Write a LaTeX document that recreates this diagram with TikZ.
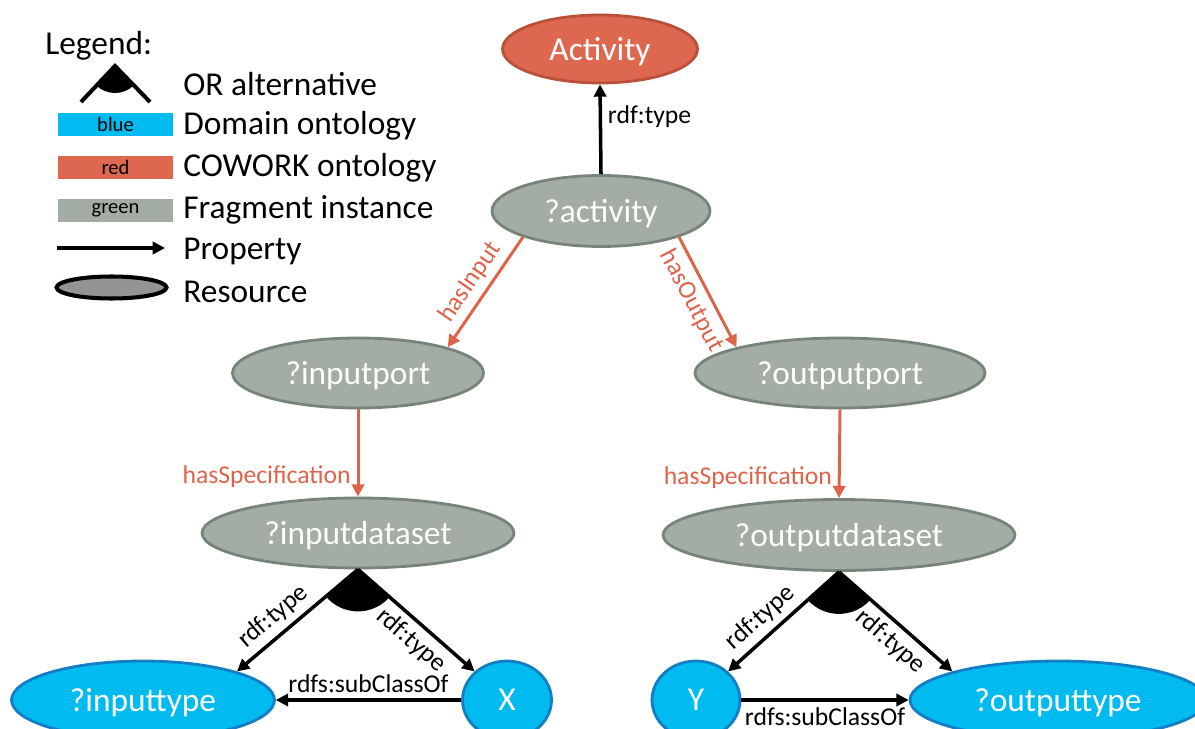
\documentclass[tikz,border=0pt]{standalone}
\usepackage{fontspec}
\setmainfont{Carlito}
\usetikzlibrary{shapes.geometric,arrows.meta}
\definecolor{domfill}{RGB}{0,187,240}
\definecolor{domline}{RGB}{20,125,195}
\definecolor{cwfill}{RGB}{221,104,79}
\definecolor{cwline}{RGB}{185,80,58}
\definecolor{cwedge}{RGB}{221,100,75}
\definecolor{fragfill}{RGB}{163,173,164}
\definecolor{fragline}{RGB}{118,132,122}
\definecolor{resgray}{RGB}{148,148,148}
\begin{document}
\begin{tikzpicture}[x=0.02cm, y=-0.02cm, >={Triangle[length=7pt,width=7pt]},
  res/.style={ellipse, inner sep=0pt, line width=1.6pt, text=white, text depth=0pt, font=\fontsize{19}{23}\selectfont},
  frag/.style={res, fill=fragfill, draw=fragline},
  cowork/.style={res, fill=cwfill, draw=cwline},
  domres/.style={res, fill=domfill, draw=domline},
  prop/.style={->, line width=2pt},
  cwprop/.style={->, line width=1.7pt, cwedge},
  lbl/.style={font=\fontsize{14.6}{17}\selectfont},
  legtext/.style={anchor=base west, inner sep=0pt, font=\fontsize{19}{23}\selectfont},
  swatch/.style={minimum width=2.3cm, minimum height=0.46cm, inner sep=0pt, font=\fontsize{11.7}{13}\selectfont}]
\useasboundingbox (0,0) rectangle (1195,729);
% Legend
\node[legtext] (lgtitle) at (45,55) {Legend:};
\coordinate (lgapex) at (115,66);
\fill (lgapex) -- ++(45.8:27) arc[start angle=45.8, end angle=133.4, radius=27] -- cycle;
\draw[line width=2.3pt] (81,102) -- (lgapex) -- (150,102);
\node[legtext] (lgor) at (183,96) {OR alternative};
\node[swatch, fill=domfill] (lgblue) at (115.5,124.5) {blue};
\node[legtext] (lgdom) at (183,135) {Domain ontology};
\node[swatch, fill=cwfill] (lgred) at (115.5,167.5) {red};
\node[legtext] (lgcw) at (183,177) {COWORK ontology};
\node[swatch, fill=fragfill] (lggreen) at (115.5,210.5) {green};
\node[legtext] (lgfrag) at (183,219) {Fragment instance};
\draw[prop] (57,248) -- (165,248);
\node[legtext] (lgprop) at (183,259) {Property};
\node[ellipse, draw, line width=2.3pt, fill=resgray, inner sep=0pt, minimum width=2.2cm, minimum height=0.44cm] (lgres) at (111.5,287.5) {};
\node[legtext] (lgrestext) at (183,302) {Resource};
% Resources
\node[cowork, minimum width=3.9cm, minimum height=1.36cm] (act) at (600,49) {Activity};
\node[frag, minimum width=4.36cm, minimum height=1.42cm] (vact) at (601,211) {?activity};
\node[frag, minimum width=5.02cm, minimum height=1.4cm] (iport) at (358,373) {?inputport};
\node[frag, minimum width=5.8cm, minimum height=1.4cm] (oport) at (840,373) {?outputport};
\node[frag, minimum width=6.24cm, minimum height=1.4cm] (ids) at (358,533) {?inputdataset};
\node[frag, minimum width=7.04cm, minimum height=1.42cm] (ods) at (839,535) {?outputdataset};
\node[domres, minimum width=5.26cm, minimum height=1.56cm] (itype) at (143,700) {?inputtype};
\node[domres, minimum width=1.78cm, minimum height=1.56cm] (x) at (507,700) {X};
\node[domres, minimum width=1.76cm, minimum height=1.56cm] (y) at (696,700) {Y};
\node[domres, minimum width=5.92cm, minimum height=1.56cm] (otype) at (1058,700) {?outputtype};
% Properties
\draw[prop] (vact.north) -- (act.south) node[lbl, right, pos=0.64] {rdf:type};
\draw[cwprop] (vact.south west) -- (iport.north east) node[lbl, sloped, above, midway] {hasInput};
\draw[cwprop] (vact.south east) -- (oport.north west) node[lbl, sloped, below, midway] {hasOutput};
\draw[cwprop] (iport.south) -- (ids.north) node[lbl, left, pos=0.77] {hasSpecification};
\draw[cwprop] (oport.south) -- (ods.north) node[lbl, left, pos=0.77] {hasSpecification};
% OR alternative, input side
\fill (ids.south) -- ++(41.5:42) arc[start angle=41.5, end angle=139.5, radius=42] -- cycle;
\draw[prop] (ids.south) -- (itype.north east) node[lbl, sloped, above, pos=0.6] {rdf:type};
\draw[prop] (ids.south) -- (x.north west) node[lbl, sloped, below, pos=0.56] {rdf:type};
\draw[prop] (x) -- (itype) node[lbl, above, midway] {rdfs:subClassOf};
% OR alternative, output side
\fill (ods.south) -- ++(41.8:42) arc[start angle=41.8, end angle=137.7, radius=42] -- cycle;
\draw[prop] (ods.south) -- (y.north east) node[lbl, sloped, above, pos=0.6] {rdf:type};
\draw[prop] (ods.south) -- (otype.north west) node[lbl, sloped, below, pos=0.56] {rdf:type};
\draw[prop] (y) -- (otype) node[lbl, below, midway] {rdfs:subClassOf};
\end{tikzpicture}
\end{document}
